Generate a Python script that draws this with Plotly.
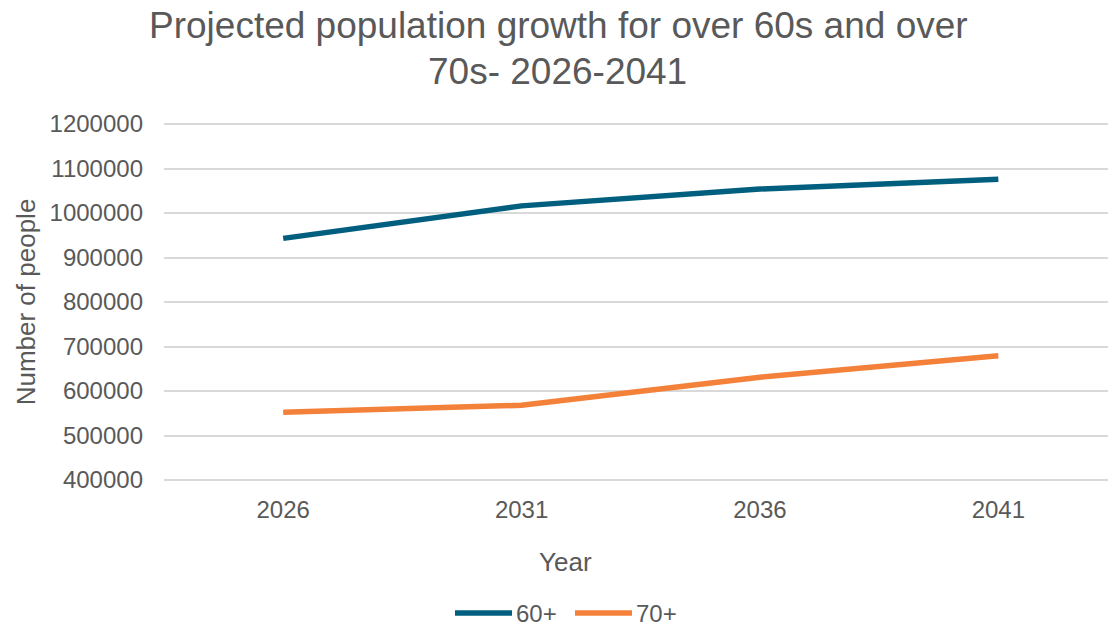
import plotly.graph_objects as go

# Projected population by age band, 2026-2041
years = ["2026", "2031", "2036", "2041"]
over_60 = [943000, 1016000, 1054000, 1076000]
over_70 = [552000, 568000, 631000, 679000]
series_names = ["60+", "70+"]
series_colors = ["#005f7f", "#f4813a"]
y_ticks = [400000, 500000, 600000, 700000, 800000, 900000, 1000000, 1100000, 1200000]

TEXT = "#595959"
FONT = "Liberation Sans, Arial, sans-serif"

W, H = 1108, 627
PAD = 3  # pixels of padding above and below so the edge gridlines are drawn
L, R, T, B = 164, 0, 124 - PAD, 147 - PAD
plot_h = H - T - B
unit_per_px = 800000 / (plot_h - 2 * PAD)
y_range = [400000 - PAD * unit_per_px, 1200000 + PAD * unit_per_px]


def py(px):
    """Convert a pixel row (from top) to paper y."""
    return (H - B - px) / plot_h


def px_x(px):
    """Convert a pixel column to paper x."""
    return (px - L) / (W - L - R)


fig = go.Figure()
for name, vals, col in zip(series_names, [over_60, over_70], series_colors):
    fig.add_trace(go.Scatter(
        x=years, y=vals, name=name, mode="lines",
        line=dict(color=col, width=5.5),
        showlegend=False, cliponaxis=False,
    ))

# Title, two centred lines
fig.add_annotation(text="Projected population growth for over 60s and over",
                   x=px_x(558), y=py(26), xref="paper", yref="paper",
                   showarrow=False, font=dict(size=37, color=TEXT, family=FONT),
                   xanchor="center", yanchor="middle")
fig.add_annotation(text="70s- 2026-2041",
                   x=px_x(557), y=py(71), xref="paper", yref="paper",
                   showarrow=False, font=dict(size=37, color=TEXT, family=FONT),
                   xanchor="center", yanchor="middle")

# X axis title
fig.add_annotation(text="Year", x=px_x(565), y=py(562), xref="paper", yref="paper",
                   showarrow=False, font=dict(size=26, color=TEXT, family=FONT),
                   xanchor="center", yanchor="middle")

# Legend below the plot
legend_y = py(613)
legend_items = [(455, 512, 514), (575, 632, 634)]
for (x0, x1, xt), name, col in zip(legend_items, series_names, series_colors):
    fig.add_shape(type="line", xref="paper", yref="paper",
                  x0=px_x(x0), x1=px_x(x1), y0=legend_y, y1=legend_y,
                  line=dict(color=col, width=5.5))
    fig.add_annotation(text=name, x=px_x(xt), y=legend_y, xref="paper", yref="paper",
                       showarrow=False, xanchor="left", yanchor="middle",
                       font=dict(size=24, color=TEXT, family=FONT))

fig.update_layout(
    width=W, height=H,
    margin=dict(l=L, r=R, t=T, b=B),
    paper_bgcolor="white", plot_bgcolor="white",
    font=dict(family=FONT, color=TEXT, size=24),
    showlegend=False,
)
fig.update_xaxes(
    type="category", range=[-0.5, 3.46],
    showgrid=False, showline=False, zeroline=False,
    ticks="", ticklabelstandoff=10,
    tickfont=dict(size=24, color=TEXT),
)
fig.update_yaxes(
    range=y_range, tickvals=y_ticks,
    ticktext=[str(v) for v in y_ticks],
    showgrid=True, gridcolor="#d9d9d9", gridwidth=1.5,
    showline=False, zeroline=False, ticks="", ticklabelstandoff=20,
    tickfont=dict(size=24, color=TEXT),
    title=dict(text="Number of people", font=dict(size=26, color=TEXT), standoff=6),
)

fig.write_html("out.html")
